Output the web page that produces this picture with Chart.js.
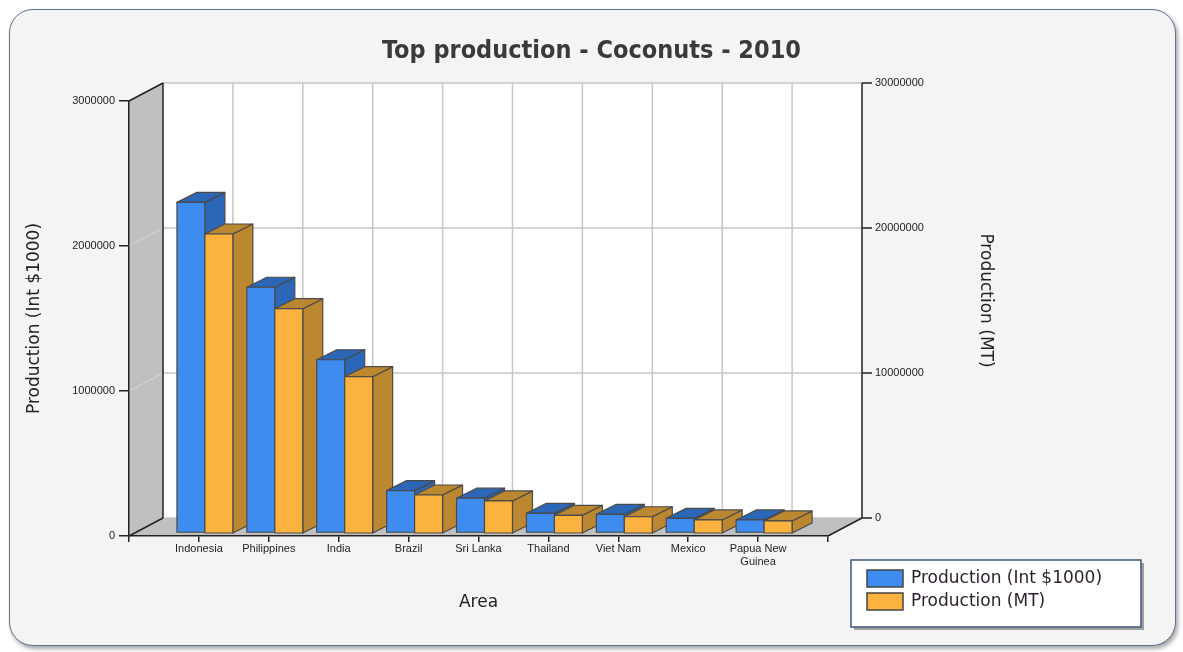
<!DOCTYPE html>
<html>
<head>
<meta charset="utf-8">
<script src="https://cdn.jsdelivr.net/npm/chart.js@4.4.0/dist/chart.umd.min.js"></script>
<style>
  html, body { margin: 0; padding: 0; background: #ffffff; }
  #panel {
    position: absolute; left: 9px; top: 9px; width: 1165px; height: 635px;
    border: 1.5px solid #5b7291; border-radius: 24px; background: #f4f4f4;
    box-shadow: 2px 3px 4px rgba(0, 0, 0, 0.35);
  }
  #wrap { position: absolute; left: 0; top: 0; width: 1183px; height: 652px; }
</style>
</head>
<body>
<div id="panel"></div>
<div id="wrap"><canvas id="myChart" width="1183" height="652"></canvas></div>
<script>
// values
let areas = ['Indonesia', 'Philippines', 'India', 'Brazil', 'Sri Lanka', 'Thailand', 'Viet Nam', 'Mexico', ['Papua New', 'Guinea']];
let valueIntDollars = [2280000, 1695000, 1195000, 292000, 240000, 136000, 129000, 101000, 90000];
let productionTonnes = [20620000, 15470000, 10780000, 2620000, 2210000, 1220000, 1120000, 900000, 830000];
let leftTicks = [0, 1000000, 2000000, 3000000];
let rightTicks = [0, 10000000, 20000000, 30000000];

// 3d look
const DEPTH = {x: 34, y: -18};
const BAR_SHIFT = {x: 6, y: -3};
const BAR_DEPTH = {x: 20, y: -10};
const EDGE = '#222222';
const TITLE_FONT = '"DejaVu Sans", Verdana, sans-serif';

// one empty slot each side, like the original axis
let labels = [''].concat(areas, ['']);
let pad = arr => [null].concat(arr, [null]);

function line(ctx, x0, y0, x1, y1) {
  ctx.beginPath();
  ctx.moveTo(x0, y0);
  ctx.lineTo(x1, y1);
  ctx.stroke();
}

function poly(ctx, pts, fill, stroke, lw) {
  ctx.beginPath();
  ctx.moveTo(pts[0][0], pts[0][1]);
  for (let i = 1; i < pts.length; i++) ctx.lineTo(pts[i][0], pts[i][1]);
  ctx.closePath();
  if (fill) { ctx.fillStyle = fill; ctx.fill(); }
  if (stroke) { ctx.strokeStyle = stroke; ctx.lineWidth = lw || 1; ctx.stroke(); }
}

const walls = {
  id: 'walls',
  beforeDraw(chart) {
    const {ctx, chartArea: a, scales} = chart;
    const L = a.left, R = a.right, T = a.top, B = a.bottom;
    const dx = DEPTH.x, dy = DEPTH.y;
    ctx.save();
    // back wall
    ctx.fillStyle = '#ffffff';
    ctx.fillRect(L + dx, T + dy, R - L, B - T);
    ctx.strokeStyle = '#c6c6c6';
    ctx.lineWidth = 1.5;
    leftTicks.forEach(v => {
      let y = scales.y.getPixelForValue(v) + dy;
      line(ctx, L + dx, y, R + dx, y);
    });
    for (let i = 1; i < labels.length - 1; i++) {
      let x = scales.x.getPixelForTick(i) + dx;
      line(ctx, x, T + dy, x, B + dy);
    }
    // side wall
    poly(ctx, [[L, T], [L + dx, T + dy], [L + dx, B + dy], [L, B]], '#c0c0c0');
    ctx.strokeStyle = '#d6d6d6';
    ctx.lineWidth = 1;
    leftTicks.slice(1, -1).forEach(v => {
      let y = scales.y.getPixelForValue(v);
      line(ctx, L, y, L + dx, y + dy);
    });
    // floor
    poly(ctx, [[L, B], [L + dx, B + dy], [R + dx, B + dy], [R, B]], '#c0c0c0');
    ctx.strokeStyle = EDGE;
    ctx.lineWidth = 1.5;
    line(ctx, L, T, L + dx, T + dy);
    line(ctx, L + dx, T + dy, L + dx, B + dy);
    line(ctx, L, B, L + dx, B + dy);
    line(ctx, R, B, R + dx, B + dy);
    ctx.restore();
  },
  beforeDatasetsDraw(chart) {
    const {ctx} = chart;
    const n = labels.length;
    ctx.save();
    ctx.lineJoin = 'round';
    for (let i = 0; i < n; i++) {
      chart.data.datasets.forEach((ds, d) => {
        let el = chart.getDatasetMeta(d).data[i];
        if (!el || ds.data[i] == null) return;
        let p = el.getProps(['x', 'y', 'base', 'width'], true);
        let x0 = p.x - p.width / 2 + BAR_SHIFT.x, x1 = p.x + p.width / 2 + BAR_SHIFT.x;
        let y0 = p.y + BAR_SHIFT.y, y1 = p.base + BAR_SHIFT.y;
        let bx = BAR_DEPTH.x, by = BAR_DEPTH.y;
        poly(ctx, [[x1, y0], [x1 + bx, y0 + by], [x1 + bx, y1 + by], [x1, y1]], ds.sideColor, '#4a4a4a', 1.2);
        poly(ctx, [[x0, y0], [x0 + bx, y0 + by], [x1 + bx, y0 + by], [x1, y0]], ds.sideColor, '#4a4a4a', 1.2);
        poly(ctx, [[x0, y0], [x1, y0], [x1, y1], [x0, y1]], ds.backgroundColor, '#4a4a4a', 1.2);
      });
    }
    ctx.restore();
    return false;
  },
  afterDraw(chart) {
    const {ctx, chartArea: a, scales} = chart;
    const dx = DEPTH.x, dy = DEPTH.y;
    const xr = a.right + dx;
    ctx.save();
    // right axis sits on the back wall
    ctx.strokeStyle = EDGE;
    ctx.lineWidth = 1.5;
    line(ctx, xr, a.top + dy, xr, a.bottom + dy);
    ctx.font = '11px "Liberation Sans", Arial, sans-serif';
    ctx.fillStyle = '#222';
    ctx.textAlign = 'left';
    ctx.textBaseline = 'middle';
    rightTicks.forEach(v => {
      let y = scales.y2.getPixelForValue(v) + dy;
      line(ctx, xr, y, xr + 10, y);
      ctx.fillText(String(v), xr + 13, y);
    });
    ctx.translate(985, (a.top + a.bottom) / 2 + dy);
    ctx.rotate(Math.PI / 2);
    ctx.font = '17px ' + TITLE_FONT;
    ctx.textAlign = 'center';
    ctx.fillText('Production (MT)', 0, 0);
    ctx.restore();

    // legend box
    ctx.save();
    let lx = 851, ly = 560, lw = 290, lh = 67;
    ctx.fillStyle = 'rgba(0,0,0,0.35)';
    ctx.fillRect(lx + 3, ly + 3, lw, lh);
    ctx.fillStyle = '#ffffff';
    ctx.fillRect(lx, ly, lw, lh);
    ctx.strokeStyle = '#3e5679';
    ctx.lineWidth = 1.5;
    ctx.strokeRect(lx, ly, lw, lh);
    ctx.font = '17px ' + TITLE_FONT;
    ctx.textAlign = 'left';
    ctx.textBaseline = 'middle';
    chart.data.datasets.forEach((ds, k) => {
      let y = ly + 10 + k * 23;
      ctx.fillStyle = ds.backgroundColor;
      ctx.fillRect(lx + 16, y, 36, 17);
      ctx.strokeStyle = '#444';
      ctx.strokeRect(lx + 16, y, 36, 17);
      ctx.fillStyle = '#2a1f2a';
      ctx.fillText(ds.label, lx + 60, y + 9);
    });
    ctx.restore();
  }
};

Chart.defaults.font.family = '"Liberation Sans", Arial, sans-serif';
Chart.defaults.color = '#222';

let ctx = document.getElementById('myChart').getContext('2d');
let myChart = new Chart(ctx, {
  type: 'bar',
  data: {
    labels: labels,
    datasets: [{
      label: 'Production (Int $1000)',
      data: pad(valueIntDollars),
      yAxisID: 'y',
      backgroundColor: '#3f8cf0',
      sideColor: '#2c66b6'
    }, {
      label: 'Production (MT)',
      data: pad(productionTonnes),
      yAxisID: 'y2',
      backgroundColor: '#fcb23f',
      sideColor: '#bb8730'
    }]
  },
  options: {
    responsive: false,
    animation: false,
    categoryPercentage: 0.8,
    barPercentage: 1.0,
    layout: { padding: 0 },
    plugins: {
      legend: { display: false },
      tooltip: { enabled: false },
      title: {
        display: true,
        text: 'Top production - Coconuts - 2010',
        color: '#3a3a3a',
        font: { family: '"DejaVu Sans Condensed", "DejaVu Sans", sans-serif', size: 25, weight: 'bold' },
        padding: { top: 36, bottom: 35 }
      }
    },
    scales: {
      x: {
        type: 'category',
        offset: false,
        grid: { offset: false, drawOnChartArea: false, drawTicks: true, tickLength: 6, color: EDGE, lineWidth: 1.5 },
        border: { color: EDGE, width: 1.5 },
        ticks: { autoSkip: false, maxRotation: 0, padding: 0, font: { size: 11 }, color: '#222' },
        title: {
          display: true, text: 'Area', color: '#222',
          font: { family: TITLE_FONT, size: 17 },
          padding: { top: 0, bottom: 39 }
        },
        afterFit: s => { s.height = 116; }
      },
      y: {
        position: 'left',
        min: 0,
        max: 3000000,
        afterBuildTicks: s => { s.ticks = leftTicks.map(v => ({value: v})); },
        grid: { drawOnChartArea: false, tickLength: 10, color: EDGE, lineWidth: 1.5 },
        border: { color: EDGE, width: 1.5 },
        ticks: { padding: 4, font: { size: 11 }, color: '#222', callback: v => String(v) },
        title: {
          display: true, text: 'Production (Int $1000)', color: '#222',
          font: { family: TITLE_FONT, size: 17 },
          padding: { top: 24, bottom: 0 }
        },
        afterFit: s => { s.width = 129; }
      },
      y2: {
        position: 'right',
        display: false,
        min: 0,
        max: 30000000,
        afterFit: s => { s.width = 355; }
      }
    }
  },
  plugins: [walls]
});
</script>
</body>
</html>
